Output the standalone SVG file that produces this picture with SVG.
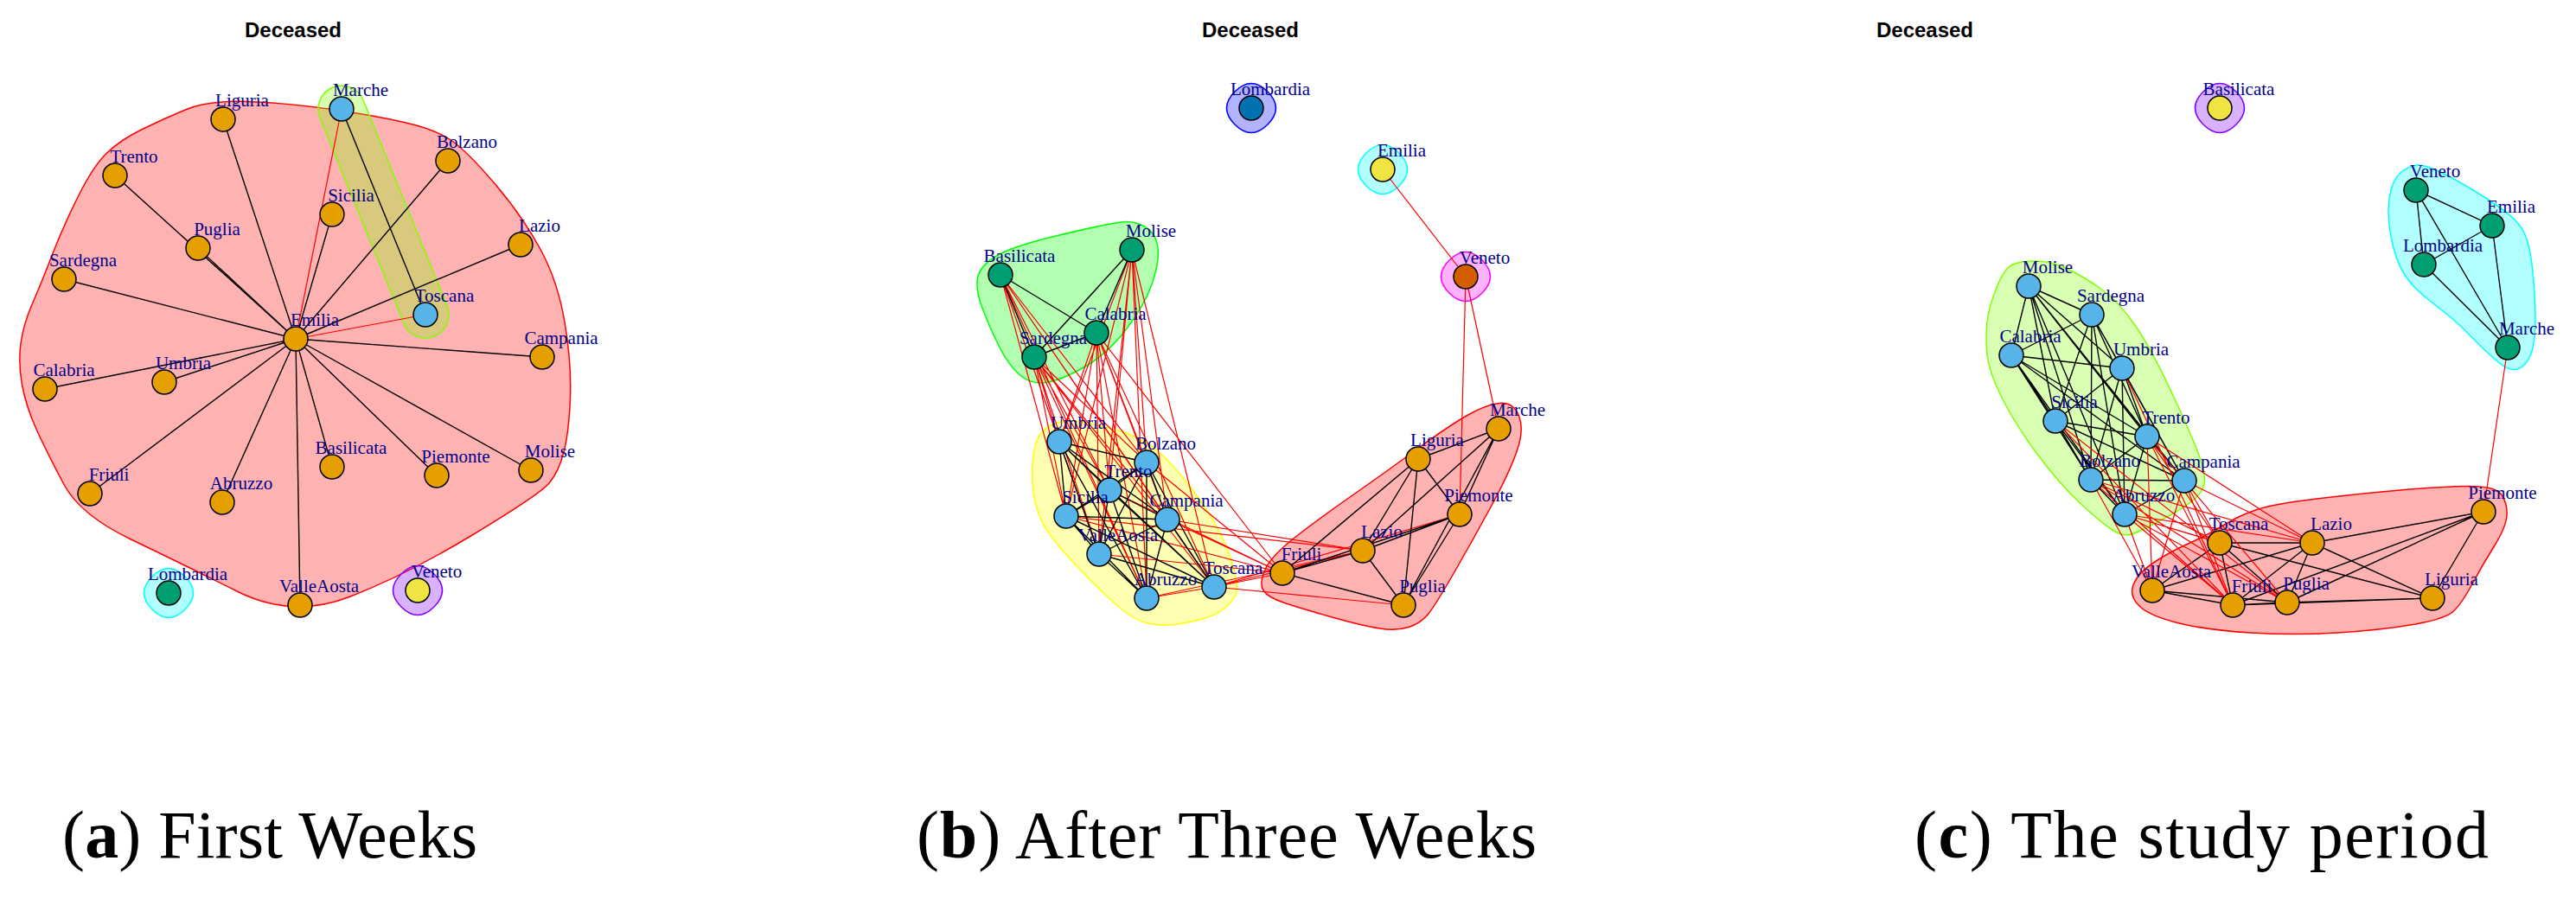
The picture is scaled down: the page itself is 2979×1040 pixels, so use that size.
<svg xmlns="http://www.w3.org/2000/svg" xmlns:xlink="http://www.w3.org/1999/xlink" width="2979" height="1040" viewBox="0 0 2979 1040">
<style>
.t{font-family:"Liberation Sans",Arial,sans-serif;font-weight:bold;font-size:24px;text-anchor:middle;fill:#000}
.lb{font-family:"Liberation Serif","Times New Roman",serif;font-size:21px;fill:#00008B;text-anchor:middle}
.cap{font-family:"Liberation Serif","Times New Roman",serif;font-size:78px;fill:#000}
circle{stroke:#000;stroke-width:1.5}
.o{fill:#E69F00}.b{fill:#56B4E9}.g{fill:#009E73}.y{fill:#F0E442}.db{fill:#0072B2}.v{fill:#D55E00}
.k{stroke:#000;stroke-width:1.4;fill:none}
.r{stroke:#FF0000;stroke-width:1.2;fill:none}
.hr{fill:#FF0000;fill-opacity:.3;stroke:#FF0000;stroke-width:1.5}
.hc{fill:#80FF00;fill-opacity:.3;stroke:#80FF00;stroke-width:1.5}
.hg{fill:#00FF00;fill-opacity:.3;stroke:#00FF00;stroke-width:1.5}
.hy{fill:#FFFF00;fill-opacity:.3;stroke:#FFFF00;stroke-width:1.5}
.hcy{fill:#00FFFF;fill-opacity:.3;stroke:#00FFFF;stroke-width:1.5}
.hv{fill:#8000FF;fill-opacity:.3;stroke:#8000FF;stroke-width:1.5}
.hb{fill:#0000FF;fill-opacity:.3;stroke:#0000FF;stroke-width:1.5}
.hm{fill:#FF00FF;fill-opacity:.3;stroke:#FF00FF;stroke-width:1.5}
</style>
<defs>
<path id="blob" d="M-19,-19 Q0,-38 19,-19 Q38,0 19,19 Q0,38 -19,19 Q-38,0 -19,-19 Z"/>
</defs>
<rect width="2979" height="1040" fill="#fff"/>

<!-- ============ Panel (a) ============ -->
<text class="t" x="339" y="43">Deceased</text>
<g id="a-groups">
<path class="hr" d="M215.5,126.5 Q241,116 285.5,117.5 Q330,119 380,126 Q430,133 467.5,141.5 Q505,150 523.5,163.5 Q542,177 573,213.5 Q604,250 624.5,287.5 Q645,325 653,372.5 Q661,420 659.5,460 Q658,500 652,523 Q646,546 635,559 Q624,572 547,618.5 Q470,665 404,690.5 Q338,716 274,684 Q210,652 151.5,624 Q93,596 74,560.5 Q55,525 42.5,497.5 Q30,470 25.5,445 Q21,420 24,397.5 Q27,375 37.5,351 Q48,327 60.5,294.5 Q73,262 90.5,227 Q108,192 123.5,177 Q139,162 164.5,149.5 Q190,137 215.5,126.5 Z"/>
<rect class="hc" x="-155.5" y="-27" width="311" height="54" rx="27" transform="translate(443.5,245) rotate(67.83)"/>
<use xlink:href="#blob" href="#blob" class="hcy" x="195" y="686"/>
<use xlink:href="#blob" href="#blob" class="hv" x="483" y="683"/>
</g>
<g id="a-edges">
<path class="k" d="M342,392L258,138M342,392L133,203M342,392L229,287M342,392L74,323M342,392L384,248M342,392L518,186M342,392L602,283M342,392L627,413M342,392L52,450M342,392L190,442M342,392L104,571M342,392L257,581M342,392L384,540M342,392L505,550M342,392L614,544M342,392L347,700M395,126L492,364"/>
<path class="r" d="M342,392L395,126M342,392L492,364"/>
</g>
<g id="a-nodes">
<g id="a-Marche"><circle class="b" cx="395" cy="126" r="14"/><text class="lb" x="417" y="111">Marche</text></g>
<g id="a-Liguria"><circle class="o" cx="258" cy="138" r="14"/><text class="lb" x="280" y="123">Liguria</text></g>
<g id="a-Bolzano"><circle class="o" cx="518" cy="186" r="14"/><text class="lb" x="540" y="171">Bolzano</text></g>
<g id="a-Trento"><circle class="o" cx="133" cy="203" r="14"/><text class="lb" x="155" y="188">Trento</text></g>
<g id="a-Sicilia"><circle class="o" cx="384" cy="248" r="14"/><text class="lb" x="406" y="233">Sicilia</text></g>
<g id="a-Lazio"><circle class="o" cx="602" cy="283" r="14"/><text class="lb" x="624" y="268">Lazio</text></g>
<g id="a-Puglia"><circle class="o" cx="229" cy="287" r="14"/><text class="lb" x="251" y="272">Puglia</text></g>
<g id="a-Sardegna"><circle class="o" cx="74" cy="323" r="14"/><text class="lb" x="96" y="308">Sardegna</text></g>
<g id="a-Toscana"><circle class="b" cx="492" cy="364" r="14"/><text class="lb" x="514" y="349">Toscana</text></g>
<g id="a-Emilia"><circle class="o" cx="342" cy="392" r="14"/><text class="lb" x="364" y="377">Emilia</text></g>
<g id="a-Campania"><circle class="o" cx="627" cy="413" r="14"/><text class="lb" x="649" y="398">Campania</text></g>
<g id="a-Calabria"><circle class="o" cx="52" cy="450" r="14"/><text class="lb" x="74" y="435">Calabria</text></g>
<g id="a-Umbria"><circle class="o" cx="190" cy="442" r="14"/><text class="lb" x="212" y="427">Umbria</text></g>
<g id="a-Friuli"><circle class="o" cx="104" cy="571" r="14"/><text class="lb" x="126" y="556">Friuli</text></g>
<g id="a-Abruzzo"><circle class="o" cx="257" cy="581" r="14"/><text class="lb" x="279" y="566">Abruzzo</text></g>
<g id="a-Basilicata"><circle class="o" cx="384" cy="540" r="14"/><text class="lb" x="406" y="525">Basilicata</text></g>
<g id="a-Piemonte"><circle class="o" cx="505" cy="550" r="14"/><text class="lb" x="527" y="535">Piemonte</text></g>
<g id="a-Molise"><circle class="o" cx="614" cy="544" r="14"/><text class="lb" x="636" y="529">Molise</text></g>
<g id="a-Lombardia"><circle class="g" cx="195" cy="686" r="14"/><text class="lb" x="217" y="671">Lombardia</text></g>
<g id="a-ValleAosta"><circle class="o" cx="347" cy="700" r="14"/><text class="lb" x="369" y="685">ValleAosta</text></g>
<g id="a-Veneto"><circle class="y" cx="483" cy="683" r="14"/><text class="lb" x="505" y="668">Veneto</text></g>
</g>
<text class="cap" x="72" y="992" textLength="480" lengthAdjust="spacing">(<tspan font-weight="bold">a</tspan>) First Weeks</text>

<!-- ============ Panel (b) ============ -->
<text class="t" x="1446" y="43">Deceased</text>
<g id="b-groups">
<use xlink:href="#blob" href="#blob" class="hb" x="1447" y="125"/>
<use xlink:href="#blob" href="#blob" class="hcy" x="1599" y="196"/>
<use xlink:href="#blob" href="#blob" class="hm" x="1695" y="320"/>
<path class="hg" d="M1136,356.5 Q1128,335 1130.5,321.5 Q1133,308 1151.5,296.5 Q1170,285 1225,272 Q1280,259 1296,257 Q1312,255 1324.5,262.5 Q1337,270 1339,286 Q1341,302 1332.5,327.5 Q1324,353 1302,381.5 Q1280,410 1253.5,425 Q1227,440 1209.5,442.5 Q1192,445 1179,433.5 Q1166,422 1155,400 Q1144,378 1136,356.5 Z"/>
<path class="hy" d="M1194,558.5 Q1193,540 1195.5,523.5 Q1198,507 1205.5,499 Q1213,491 1226.5,488 Q1240,485 1257.5,489 Q1275,493 1296.5,499 Q1318,505 1336.5,520 Q1355,535 1374.5,560.5 Q1394,586 1406.5,608 Q1419,630 1425.5,653.5 Q1432,677 1430,685 Q1428,693 1417.5,702.5 Q1407,712 1387,717 Q1367,722 1352.5,723 Q1338,724 1325.5,720.5 Q1313,717 1300,707 Q1287,697 1263.5,673.5 Q1240,650 1223.5,630.5 Q1207,611 1201,594 Q1195,577 1194,558.5 Z"/>
<path class="hr" d="M1461,683 Q1456,675 1463,659 Q1470,643 1499,620.5 Q1528,598 1564,573 Q1600,548 1636,521.5 Q1672,495 1695,481.5 Q1718,468 1734,466.5 Q1750,465 1756.5,481 Q1763,497 1754,522.5 Q1745,548 1723.5,587.5 Q1702,627 1681,663.5 Q1660,700 1651.5,710.5 Q1643,721 1629,725.5 Q1615,730 1595.5,727 Q1576,724 1540.5,714 Q1505,704 1485.5,697.5 Q1466,691 1461,683 Z"/>
</g>
<g id="b-edges">
<path class="r" d="M1157,318L1225,511M1157,318L1326,535M1157,318L1283,567M1157,318L1233,597M1157,318L1350,601M1157,318L1271,641M1157,318L1326,692M1157,318L1404,679
M1309,289L1225,511M1309,289L1326,535M1309,289L1283,567M1309,289L1233,597M1309,289L1350,601M1309,289L1271,641M1309,289L1326,692M1309,289L1404,679
M1268,385L1225,511M1268,385L1326,535M1268,385L1283,567M1268,385L1233,597M1268,385L1350,601M1268,385L1271,641M1268,385L1326,692M1268,385L1404,679
M1196,413L1225,511M1196,413L1326,535M1196,413L1283,567M1196,413L1233,597M1196,413L1350,601M1196,413L1271,641M1196,413L1326,692M1196,413L1404,679
M1350,601L1483,663M1350,601L1576,637M1233,597L1576,637M1233,597L1483,663M1271,641L1483,663M1283,567L1483,663M1326,535L1483,663M1404,679L1576,637M1404,679L1688,595M1404,679L1623,700M1326,692L1576,637M1268,385L1483,663
M1599,196L1695,320M1695,320L1688,595M1695,320L1733,496"/>
<path class="r" stroke-width="3" d="M1404,679L1483,663M1326,692L1404,679"/>
<path class="k" d="M1157,318L1268,385M1157,318L1196,413M1309,289L1196,413M1309,289L1268,385M1196,413L1268,385
M1225,511L1326,535M1225,511L1283,567M1225,511L1233,597M1225,511L1350,601M1225,511L1271,641M1225,511L1326,692M1225,511L1404,679
M1326,535L1283,567M1326,535L1233,597M1326,535L1350,601M1326,535L1271,641M1326,535L1326,692M1326,535L1404,679
M1283,567L1233,597M1283,567L1350,601M1283,567L1271,641M1283,567L1326,692M1283,567L1404,679
M1233,597L1350,601M1233,597L1271,641M1233,597L1326,692M1233,597L1404,679
M1350,601L1271,641M1350,601L1326,692M1350,601L1404,679M1271,641L1326,692M1271,641L1404,679
M1483,663L1640,531M1483,663L1576,637M1483,663L1623,700M1483,663L1688,595M1576,637L1640,531M1576,637L1733,496M1576,637L1623,700M1576,637L1688,595M1640,531L1733,496M1640,531L1688,595M1640,531L1623,700M1733,496L1688,595M1733,496L1623,700M1688,595L1623,700"/>
</g>
<g id="b-nodes">
<g id="b-Lombardia"><circle class="db" cx="1447" cy="125" r="14"/><text class="lb" x="1469" y="110">Lombardia</text></g>
<g id="b-Emilia"><circle class="y" cx="1599" cy="196" r="14"/><text class="lb" x="1621" y="181">Emilia</text></g>
<g id="b-Veneto"><circle class="v" cx="1695" cy="320" r="14"/><text class="lb" x="1717" y="305">Veneto</text></g>
<g id="b-Molise"><circle class="g" cx="1309" cy="289" r="14"/><text class="lb" x="1331" y="274">Molise</text></g>
<g id="b-Basilicata"><circle class="g" cx="1157" cy="318" r="14"/><text class="lb" x="1179" y="303">Basilicata</text></g>
<g id="b-Calabria"><circle class="g" cx="1268" cy="385" r="14"/><text class="lb" x="1290" y="370">Calabria</text></g>
<g id="b-Sardegna"><circle class="g" cx="1196" cy="413" r="14"/><text class="lb" x="1218" y="398">Sardegna</text></g>
<g id="b-Umbria"><circle class="b" cx="1225" cy="511" r="14"/><text class="lb" x="1247" y="496">Umbria</text></g>
<g id="b-Bolzano"><circle class="b" cx="1326" cy="535" r="14"/><text class="lb" x="1348" y="520">Bolzano</text></g>
<g id="b-Trento"><circle class="b" cx="1283" cy="567" r="14"/><text class="lb" x="1305" y="552">Trento</text></g>
<g id="b-Sicilia"><circle class="b" cx="1233" cy="597" r="14"/><text class="lb" x="1255" y="582">Sicilia</text></g>
<g id="b-Campania"><circle class="b" cx="1350" cy="601" r="14"/><text class="lb" x="1372" y="586">Campania</text></g>
<g id="b-ValleAosta"><circle class="b" cx="1271" cy="641" r="14"/><text class="lb" x="1293" y="626">ValleAosta</text></g>
<g id="b-Abruzzo"><circle class="b" cx="1326" cy="692" r="14"/><text class="lb" x="1348" y="677">Abruzzo</text></g>
<g id="b-Toscana"><circle class="b" cx="1404" cy="679" r="14"/><text class="lb" x="1426" y="664">Toscana</text></g>
<g id="b-Friuli"><circle class="o" cx="1483" cy="663" r="14"/><text class="lb" x="1505" y="648">Friuli</text></g>
<g id="b-Lazio"><circle class="o" cx="1576" cy="637" r="14"/><text class="lb" x="1598" y="622">Lazio</text></g>
<g id="b-Puglia"><circle class="o" cx="1623" cy="700" r="14"/><text class="lb" x="1645" y="685">Puglia</text></g>
<g id="b-Piemonte"><circle class="o" cx="1688" cy="595" r="14"/><text class="lb" x="1710" y="580">Piemonte</text></g>
<g id="b-Liguria"><circle class="o" cx="1640" cy="531" r="14"/><text class="lb" x="1662" y="516">Liguria</text></g>
<g id="b-Marche"><circle class="o" cx="1733" cy="496" r="14"/><text class="lb" x="1755" y="481">Marche</text></g>
</g>
<text class="cap" x="1060" y="992" textLength="717" lengthAdjust="spacing">(<tspan font-weight="bold">b</tspan>) After Three Weeks</text>

<!-- ============ Panel (c) ============ -->
<text class="t" x="2226" y="43">Deceased</text>
<g id="c-groups">
<use xlink:href="#blob" href="#blob" class="hv" x="2567" y="125"/>
<path class="hcy" d="M2776.5,199.5 Q2786,192 2795.5,191 Q2805,190 2826.5,201 Q2848,212 2877,230.5 Q2906,249 2915.5,263 Q2925,277 2928.5,310 Q2932,343 2932,370 Q2932,397 2926.5,410.5 Q2921,424 2911.5,427 Q2902,430 2888.5,418.5 Q2875,407 2857,388.5 Q2839,370 2814.5,351.5 Q2790,333 2780,316.5 Q2770,300 2765,273.5 Q2760,247 2763.5,227 Q2767,207 2776.5,199.5 Z"/>
<path class="hc" d="M2327.5,306 Q2337,302 2355,302 Q2373,302 2393,312 Q2413,322 2431.5,335.5 Q2450,349 2468.5,375.5 Q2487,402 2510,451 Q2533,500 2542,524 Q2551,548 2549.5,558 Q2548,568 2539,576.5 Q2530,585 2505,598.5 Q2480,612 2468.5,617 Q2457,622 2443.5,613.5 Q2430,605 2405,581.5 Q2380,558 2355,524 Q2330,490 2315,460 Q2300,430 2298,410 Q2296,390 2298,372.5 Q2300,355 2309,332.5 Q2318,310 2327.5,306 Z"/>
<path class="hr" d="M2474.5,701.5 Q2462,690 2467,676.5 Q2472,663 2491,650.5 Q2510,638 2531.5,628.5 Q2553,619 2571.5,607.5 Q2590,596 2610,589.5 Q2630,583 2675,577.5 Q2720,572 2770,567.5 Q2820,563 2853,562.5 Q2886,562 2893,572.5 Q2900,583 2899,596.5 Q2898,610 2884,632.5 Q2870,655 2858.5,676.5 Q2847,698 2837.5,707 Q2828,716 2790.5,722.5 Q2753,729 2703,732 Q2653,735 2603,732 Q2553,729 2520,721 Q2487,713 2474.5,701.5 Z"/>
</g>
<g id="c-edges">
<path class="k" d="M2346,331L2419,364M2346,331L2326,411M2346,331L2454,426M2346,331L2377,487M2346,331L2483,505M2346,331L2418,555M2346,331L2526,556M2346,331L2457,595
M2419,364L2326,411M2419,364L2454,426M2419,364L2377,487M2419,364L2483,505M2419,364L2418,555M2419,364L2526,556M2419,364L2457,595
M2326,411L2454,426M2326,411L2377,487M2326,411L2483,505M2326,411L2418,555M2326,411L2526,556M2326,411L2457,595
M2454,426L2377,487M2454,426L2483,505M2454,426L2418,555M2454,426L2526,556M2454,426L2457,595
M2377,487L2483,505M2377,487L2418,555M2377,487L2526,556M2377,487L2457,595
M2483,505L2418,555M2483,505L2526,556M2483,505L2457,595M2418,555L2526,556M2418,555L2457,595M2526,556L2457,595
M2489,683L2567,628M2489,683L2674,628M2489,683L2582,700M2489,683L2645,697M2567,628L2674,628M2567,628L2582,700M2567,628L2645,697M2567,628L2813,692M2674,628L2582,700M2674,628L2645,697M2674,628L2813,692M2674,628L2872,592M2582,700L2645,697M2582,700L2872,592M2645,697L2872,592M2645,697L2813,692M2813,692L2872,592M2582,700L2813,692
M2794,220L2882,261M2794,220L2803,306M2794,220L2900,402M2882,261L2803,306M2882,261L2900,402M2803,306L2900,402"/>
<path class="r" d="M2900,402L2872,592
M2377,487L2582,700M2377,487L2645,697M2454,426L2582,700
M2483,505L2567,628M2483,505L2674,628M2483,505L2582,700M2483,505L2645,697M2483,505L2489,683
M2418,555L2489,683M2418,555L2582,700M2418,555L2645,697M2418,555L2567,628M2418,555L2674,628
M2526,556L2567,628M2526,556L2674,628M2526,556L2582,700M2526,556L2645,697M2526,556L2489,683
M2457,595L2567,628M2457,595L2674,628M2457,595L2582,700M2457,595L2645,697M2457,595L2489,683"/>
</g>
<g id="c-nodes">
<g id="c-Basilicata"><circle class="y" cx="2567" cy="125" r="14"/><text class="lb" x="2589" y="110">Basilicata</text></g>
<g id="c-Veneto"><circle class="g" cx="2794" cy="220" r="14"/><text class="lb" x="2816" y="205">Veneto</text></g>
<g id="c-Emilia"><circle class="g" cx="2882" cy="261" r="14"/><text class="lb" x="2904" y="246">Emilia</text></g>
<g id="c-Lombardia"><circle class="g" cx="2803" cy="306" r="14"/><text class="lb" x="2825" y="291">Lombardia</text></g>
<g id="c-Marche"><circle class="g" cx="2900" cy="402" r="14"/><text class="lb" x="2922" y="387">Marche</text></g>
<g id="c-Molise"><circle class="b" cx="2346" cy="331" r="14"/><text class="lb" x="2368" y="316">Molise</text></g>
<g id="c-Sardegna"><circle class="b" cx="2419" cy="364" r="14"/><text class="lb" x="2441" y="349">Sardegna</text></g>
<g id="c-Calabria"><circle class="b" cx="2326" cy="411" r="14"/><text class="lb" x="2348" y="396">Calabria</text></g>
<g id="c-Umbria"><circle class="b" cx="2454" cy="426" r="14"/><text class="lb" x="2476" y="411">Umbria</text></g>
<g id="c-Sicilia"><circle class="b" cx="2377" cy="487" r="14"/><text class="lb" x="2399" y="472">Sicilia</text></g>
<g id="c-Trento"><circle class="b" cx="2483" cy="505" r="14"/><text class="lb" x="2505" y="490">Trento</text></g>
<g id="c-Bolzano"><circle class="b" cx="2418" cy="555" r="14"/><text class="lb" x="2440" y="540">Bolzano</text></g>
<g id="c-Campania"><circle class="b" cx="2526" cy="556" r="14"/><text class="lb" x="2548" y="541">Campania</text></g>
<g id="c-Abruzzo"><circle class="b" cx="2457" cy="595" r="14"/><text class="lb" x="2479" y="580">Abruzzo</text></g>
<g id="c-Toscana"><circle class="o" cx="2567" cy="628" r="14"/><text class="lb" x="2589" y="613">Toscana</text></g>
<g id="c-Lazio"><circle class="o" cx="2674" cy="628" r="14"/><text class="lb" x="2696" y="613">Lazio</text></g>
<g id="c-Piemonte"><circle class="o" cx="2872" cy="592" r="14"/><text class="lb" x="2894" y="577">Piemonte</text></g>
<g id="c-ValleAosta"><circle class="o" cx="2489" cy="683" r="14"/><text class="lb" x="2511" y="668">ValleAosta</text></g>
<g id="c-Friuli"><circle class="o" cx="2582" cy="700" r="14"/><text class="lb" x="2604" y="685">Friuli</text></g>
<g id="c-Puglia"><circle class="o" cx="2645" cy="697" r="14"/><text class="lb" x="2667" y="682">Puglia</text></g>
<g id="c-Liguria"><circle class="o" cx="2813" cy="692" r="14"/><text class="lb" x="2835" y="677">Liguria</text></g>
</g>
<text class="cap" x="2214" y="992" textLength="664" lengthAdjust="spacing">(<tspan font-weight="bold">c</tspan>) The study period</text>
</svg>
